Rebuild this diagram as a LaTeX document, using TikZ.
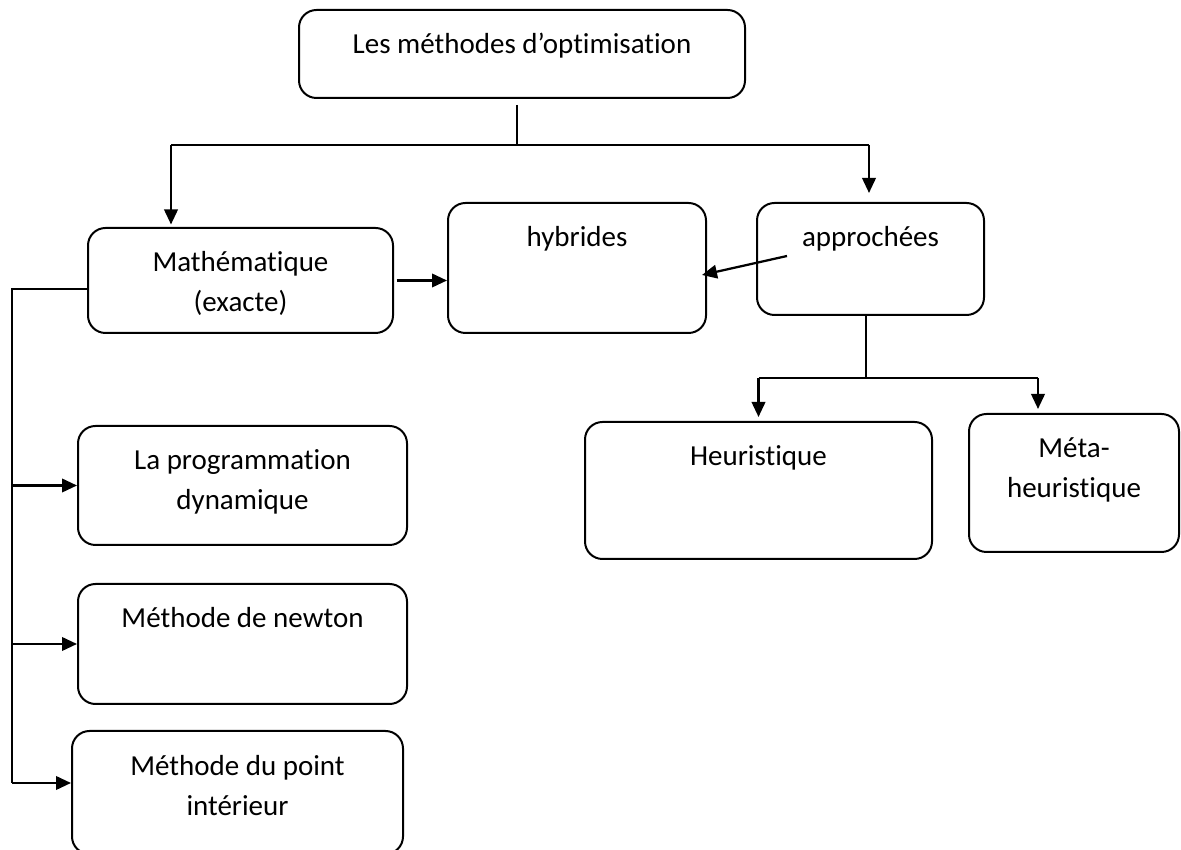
\documentclass[tikz,border=0pt]{standalone}
\usepackage{fontspec}
\setmainfont{Carlito}[Ligatures=NoCommon]
\usetikzlibrary{positioning}
\usetikzlibrary{arrows.meta}

\begin{document}
\begin{tikzpicture}[x=0.4pt, y=-0.4pt,
    box/.style={draw, rounded corners=7pt, line width=0.8pt, align=center, inner sep=0pt,
        text height=17.6pt, anchor=north west, font=\fontsize{11.6pt}{16pt}\selectfont},
    twoline/.style={text height=33.6pt},
    arrow/.style={line width=0.9pt, -{Triangle[length=6pt, width=5.4pt]}},
    link/.style={line width=0.6pt}]

    \useasboundingbox (0,0) rectangle (1181,850);

    \node[box, minimum width=178.4pt, text depth=17.6pt] (methodes) at (298,9) {Les méthodes d’optimisation};

    \node[box, twoline, minimum width=122pt, text depth=8.4pt] (math) at (87,227) {Mathématique\\(exacte)};
    \node[box, minimum width=103.2pt, text depth=34.4pt] (hybrides) at (447,202) {hybrides};
    \node[box, minimum width=90.8pt, text depth=27.2pt] (approchees) at (756,202) {approchées};

    \node[box, minimum width=138.8pt, text depth=37.2pt] (heur) at (584,421) {Heuristique};
    \node[box, twoline, minimum width=84pt, text depth=21.6pt] (meta) at (968,413) {Méta-\\heuristique};

    \node[box, twoline, minimum width=131.6pt, text depth=14pt] (prog) at (77,425) {La programmation\\dynamique};
    \node[box, minimum width=131.6pt, text depth=30.4pt, below=14.8pt of prog] (newton) {Méthode de newton};
    \node[box, twoline, minimum width=132.4pt, text depth=15.6pt, below=10pt of newton, xshift=-2pt] (point) {Méthode du point\\intérieur};

    \coordinate (split) at (517,145);
    \coordinate (lbend) at (171,145);
    \coordinate (rbend) at (869,145);
    \coordinate (asplit) at (866,378);
    \coordinate (mbend) at (1038,378);
    \coordinate (lrail) at (12,289);
    \coordinate (lfoot) at (12,783);

    \draw[link, shorten <=2.4pt] (split |- methodes.south) -- (split);
    \draw[link] (lbend) -- (rbend);
    \draw[arrow, shorten >=1pt] (lbend) -- (lbend |- math.north);
    \draw[arrow, shorten >=3.6pt] (rbend) -- (rbend |- approchees.north);

    \draw[arrow, shorten <=1pt] (math.east) -- (math.east -| hybrides.west);
    \draw[arrow] ([xshift=12.4pt, yshift=1.2pt]approchees.west) -- ([xshift=-2pt, yshift=-2.8pt]hybrides.east);

    \draw[link] (asplit |- approchees.south) -- (asplit);
    \draw[link] (asplit -| heur.north) -- (mbend);
    \draw[arrow, shorten >=1.6pt] (asplit -| heur.north) -- (heur.north);
    \draw[arrow, shorten >=1.6pt] (mbend) -- (mbend |- meta.north);

    \draw[link] (lrail -| math.west) -- (lrail) -- (lfoot);
    \draw[arrow] (lrail |- prog) -- (prog);
    \draw[arrow] (lrail |- newton) -- (newton);
    \draw[arrow] (lfoot) -- (lfoot -| point.west);

\end{tikzpicture}
\end{document}
